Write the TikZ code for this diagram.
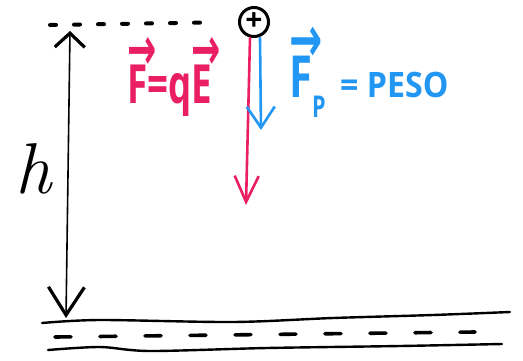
\documentclass[tikz,border=0pt]{standalone}
\usepackage{graphicx}
\usepackage{fontspec}
\setmainfont{Open Sans}
\newfontfamily\arrowfont{DejaVu Sans}
\newfontfamily\heightfont{Latin Modern Roman}
\usepackage{tikz}
\usetikzlibrary{arrows.meta, positioning}
\definecolor{SketchPink}{HTML}{E91E63}
\definecolor{SketchBlue}{HTML}{2196F3}
\definecolor{SketchBlack}{HTML}{000000}
% letter with a vector arrow on top
\newcommand{\vecltr}[1]{\makebox[0pt][l]{\raisebox{0.62em}{\scalebox{0.95}[1.1]{\arrowfont\bfseries →}}}#1}
\tikzset{
    % hand drawn strokes
    sketch line/.style={
        line width=2.4pt,
        line cap=round,
        line join=round,
        draw=SketchBlack
    },
    charge/.style={
        circle,
        draw=SketchBlack,
        line width=3pt,
        minimum size=29pt,
        inner sep=0pt,
        font=\fontsize{30}{30}\selectfont\bfseries
    },
    force pink/.style={
        sketch line,
        line width=2.6pt,
        draw=SketchPink,
        -{Straight Barb[length=26pt,width=24pt]}
    },
    force blue/.style={
        sketch line,
        line width=2.6pt,
        draw=SketchBlue,
        -{Straight Barb[length=21pt,width=28pt]}
    },
    height arrow/.style={
        line width=1.6pt,
        draw=SketchBlack,
        arrows={Straight Barb[length=14pt,width=30pt,line width=3.2pt]-Straight Barb[length=28pt,width=36pt,line width=3.2pt]}
    },
    pink label/.style={
        text=SketchPink,
        font=\fontsize{54}{54}\selectfont\bfseries,
        inner sep=0pt,
        anchor=base west
    },
    blue label/.style={
        text=SketchBlue,
        font=\fontsize{35}{35}\selectfont\bfseries,
        inner sep=0pt,
        anchor=base west
    }
}
\begin{document}
\begin{tikzpicture}[x=1pt, y=-1pt]
        \useasboundingbox (0,0) rectangle (523,360);

        % Charge and starting level
        \node[charge] (charge) at (254,22) {+};
        \coordinate (topleft) at (50,25);
        \draw[sketch line, line width=4pt, dash pattern=on 6pt off 18pt, shorten >=24pt] (topleft) -- (charge.west);

        % Height
        \coordinate (htop) at (70,31);
        \coordinate (hbottom) at (66,318);
        \draw[height arrow] (htop) -- (hbottom);
        \node[anchor=base, inner sep=0pt, font=\fontsize{72}{72}\selectfont\heightfont\itshape] (hlabel) at (34,193) {h};

        % Forces
        \coordinate (pinktip) at (246,205);
        \coordinate (bluetip) at (261,130);
        \draw[force pink] ([xshift=-4pt]charge.south) -- (pinktip);
        \draw[force blue] ([xshift=6pt]charge.south) -- (bluetip);

        % Labels
        \node[pink label, xscale=0.68] (felec) at (127,103) {\vecltr{F}=q\vecltr{E}};
        \node[blue label, font=\fontsize{58}{58}\selectfont\bfseries, xscale=0.72] (fpeso) at (289,97) {\vecltr{F}\raisebox{-20pt}{\fontsize{30}{30}\selectfont P}};
        \node[blue label, xscale=0.92] (peso) at (340,97) {= PESO};

        % Ground
        \draw[sketch line] plot[smooth] coordinates {(42,323) (100,320) (233,322) (333,318) (433,315) (510,312)};
        \draw[sketch line, line width=3.6pt, dash pattern=on 16pt off 29pt] (55,337) -- (475,332);
        \draw[sketch line] plot[smooth] coordinates {(48,350) (100,347) (150,351) (267,348) (400,346) (502,344)};
    \end{tikzpicture}
\end{document}
